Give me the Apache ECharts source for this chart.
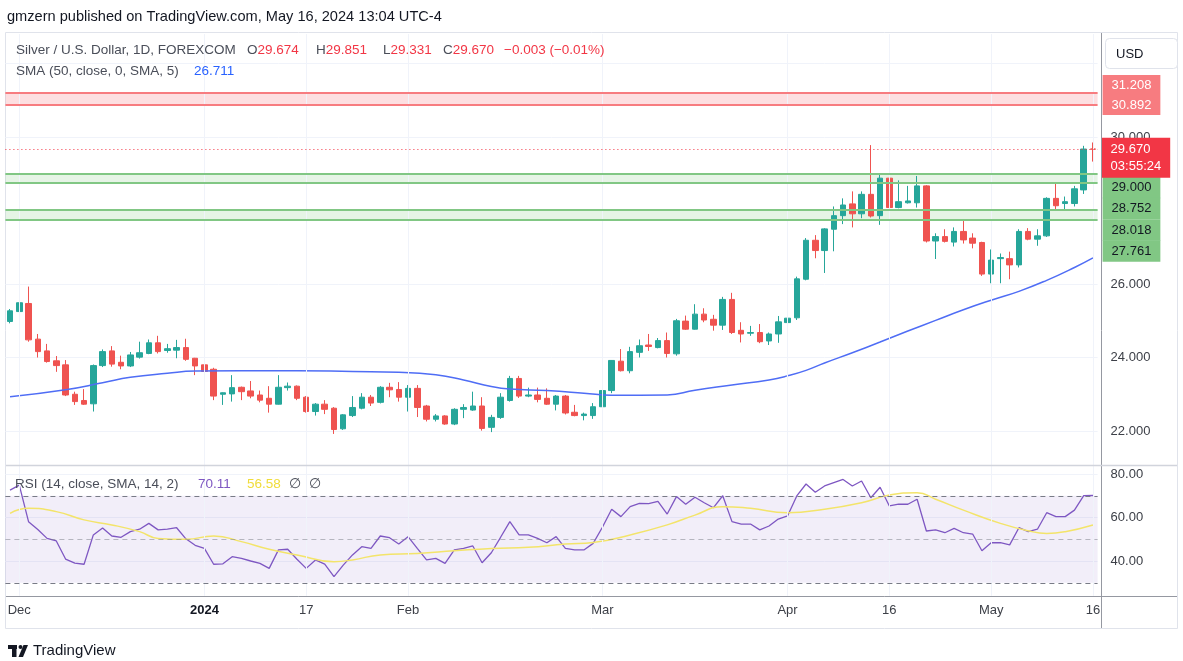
<!DOCTYPE html>
<html>
<head>
<meta charset="utf-8">
<title>Silver / U.S. Dollar, 1D, FOREXCOM</title>
<script src="https://cdn.jsdelivr.net/npm/echarts@6.0.0/dist/echarts.min.js"></script>
<style>
  html, body { margin: 0; padding: 0; background: #fff; }
  #chart { width: 1183px; height: 661px; }
</style>
</head>
<body>
<div id="chart"></div>
<script>
// daily bars, FOREXCOM XAGUSD (no bars on Dec 25, Jan 1, Good Friday)
const dates = [
  '2023-11-30', '2023-12-01', '2023-12-04', '2023-12-05', '2023-12-06', '2023-12-07', '2023-12-08',
  '2023-12-11', '2023-12-12', '2023-12-13', '2023-12-14', '2023-12-15',
  '2023-12-18', '2023-12-19', '2023-12-20', '2023-12-21', '2023-12-22',
  '2023-12-26', '2023-12-27', '2023-12-28', '2023-12-29',
  '2024-01-02', '2024-01-03', '2024-01-04', '2024-01-05',
  '2024-01-08', '2024-01-09', '2024-01-10', '2024-01-11', '2024-01-12',
  '2024-01-15', '2024-01-16', '2024-01-17', '2024-01-18', '2024-01-19',
  '2024-01-22', '2024-01-23', '2024-01-24', '2024-01-25', '2024-01-26',
  '2024-01-29', '2024-01-30', '2024-01-31', '2024-02-01', '2024-02-02',
  '2024-02-05', '2024-02-06', '2024-02-07', '2024-02-08', '2024-02-09',
  '2024-02-12', '2024-02-13', '2024-02-14', '2024-02-15', '2024-02-16',
  '2024-02-19', '2024-02-20', '2024-02-21', '2024-02-22', '2024-02-23',
  '2024-02-26', '2024-02-27', '2024-02-28', '2024-02-29', '2024-03-01',
  '2024-03-04', '2024-03-05', '2024-03-06', '2024-03-07', '2024-03-08',
  '2024-03-11', '2024-03-12', '2024-03-13', '2024-03-14', '2024-03-15',
  '2024-03-18', '2024-03-19', '2024-03-20', '2024-03-21', '2024-03-22',
  '2024-03-25', '2024-03-26', '2024-03-27', '2024-03-28',
  '2024-04-01', '2024-04-02', '2024-04-03', '2024-04-04', '2024-04-05',
  '2024-04-08', '2024-04-09', '2024-04-10', '2024-04-11', '2024-04-12',
  '2024-04-15', '2024-04-16', '2024-04-17', '2024-04-18', '2024-04-19',
  '2024-04-22', '2024-04-23', '2024-04-24', '2024-04-25', '2024-04-26',
  '2024-04-29', '2024-04-30', '2024-05-01', '2024-05-02', '2024-05-03',
  '2024-05-06', '2024-05-07', '2024-05-08', '2024-05-09', '2024-05-10',
  '2024-05-13', '2024-05-14', '2024-05-15', '2024-05-16'
];

const opens = [
  24.98, 25.25, 25.47, 24.50, 24.18, 23.91, 23.80, 23.00, 22.83, 22.74,
  23.78, 24.18, 23.87, 23.77, 24.01, 24.11, 24.40, 24.19, 24.20, 24.27,
  23.98, 23.80, 23.68, 23.00, 23.01, 23.19, 23.09, 22.98, 22.89, 22.73,
  23.18, 23.22, 22.92, 22.53, 22.73, 22.62, 22.06, 22.42, 22.62, 22.92,
  22.78, 23.19, 23.13, 22.92, 23.16, 22.68, 22.32, 22.41, 22.19, 22.59,
  22.57, 22.68, 22.10, 22.37, 22.83, 23.43, 22.95, 22.98, 22.89, 22.73,
  22.95, 22.51, 22.42, 22.42, 22.66, 23.10, 23.90, 23.64, 24.14, 24.34,
  24.27, 24.46, 24.10, 24.99, 24.77, 25.18, 25.04, 24.88, 25.58, 24.74,
  24.66, 24.68, 24.45, 24.64, 24.95, 25.08, 26.13, 27.19, 26.91, 27.49,
  27.86, 28.18, 27.91, 28.44, 27.86, 28.88, 28.08, 28.21, 28.21, 28.67,
  27.17, 27.29, 27.14, 27.43, 27.25, 27.13, 26.27, 26.69, 26.69, 26.52,
  27.43, 27.22, 27.31, 28.33, 28.19, 28.19, 28.56, 29.674
];
const highs = [
  25.32, 25.52, 25.93, 24.64, 24.37, 24.04, 23.93, 23.07, 23.14, 23.81,
  24.22, 24.31, 24.05, 24.15, 24.43, 24.49, 24.59, 24.37, 24.48, 24.51,
  23.99, 24.11, 23.72, 23.05, 23.52, 23.21, 23.36, 23.10, 23.22, 23.52,
  23.32, 23.24, 22.95, 22.76, 22.84, 22.65, 22.46, 22.95, 23.03, 22.98,
  23.22, 23.31, 23.33, 23.25, 23.25, 22.71, 22.46, 22.43, 22.62, 22.73,
  23.07, 22.92, 22.44, 23.03, 23.50, 23.50, 23.18, 23.18, 23.16, 22.98,
  22.98, 22.71, 22.50, 22.76, 23.27, 23.93, 24.23, 24.29, 24.49, 24.64,
  24.53, 24.68, 25.05, 25.14, 25.45, 25.34, 25.16, 25.65, 25.76, 24.96,
  24.86, 24.91, 24.68, 25.13, 25.38, 26.20, 27.25, 27.33, 27.52, 28.11,
  28.33, 28.52, 28.52, 29.78, 28.97, 29.01, 28.82, 28.67, 28.94, 28.69,
  27.38, 27.49, 27.54, 27.76, 27.38, 27.15, 26.94, 26.83, 26.88, 27.49,
  27.52, 27.49, 28.36, 28.77, 28.38, 28.67, 29.76, 29.851
];
const lows = [
  24.93, 25.09, 24.43, 24.00, 23.86, 23.61, 22.95, 22.71, 22.71, 22.53,
  23.74, 23.75, 23.68, 23.74, 23.97, 24.09, 24.11, 24.13, 23.98, 23.91,
  23.52, 23.60, 22.84, 22.71, 22.80, 22.84, 22.89, 22.78, 22.50, 22.72,
  23.10, 22.84, 22.50, 22.42, 22.46, 21.92, 22.03, 22.38, 22.59, 22.68,
  22.75, 22.92, 22.80, 22.53, 22.38, 22.26, 22.26, 22.17, 22.16, 22.35,
  22.55, 22.01, 21.97, 22.33, 22.80, 22.90, 22.92, 22.78, 22.71, 22.56,
  22.45, 22.40, 22.29, 22.33, 22.53, 23.03, 23.62, 23.57, 24.00, 24.18,
  24.25, 24.00, 24.05, 24.75, 24.76, 24.96, 24.73, 24.75, 24.64, 24.41,
  24.59, 24.39, 24.34, 24.40, 24.75, 25.02, 26.10, 26.70, 26.30, 26.89,
  27.63, 27.54, 27.79, 27.81, 27.61, 27.98, 28.06, 28.19, 28.08, 27.13,
  26.68, 27.13, 27.02, 27.10, 26.97, 26.22, 26.02, 26.02, 26.13, 26.45,
  27.19, 27.04, 27.28, 28.02, 28.02, 28.11, 28.45, 29.331
];
const closes = [
  25.27, 25.49, 24.48, 24.16, 23.89, 23.78, 22.98, 22.80, 22.73, 23.78,
  24.16, 23.82, 23.77, 24.07, 24.13, 24.40, 24.16, 24.24, 24.27, 23.95,
  23.77, 23.62, 22.95, 23.04, 23.18, 23.07, 22.95, 22.84, 22.73, 23.19,
  23.22, 22.89, 22.53, 22.73, 22.59, 22.04, 22.44, 22.64, 22.92, 22.76,
  23.19, 23.12, 22.92, 23.16, 22.64, 22.32, 22.41, 22.19, 22.59, 22.64,
  22.68, 22.07, 22.37, 22.92, 23.43, 22.95, 22.98, 22.86, 22.73, 22.95,
  22.49, 22.42, 22.46, 22.66, 23.10, 23.92, 23.64, 24.16, 24.32, 24.30,
  24.46, 24.11, 25.00, 24.77, 25.18, 25.02, 24.88, 25.58, 24.68, 24.64,
  24.68, 24.43, 24.64, 24.97, 25.07, 26.14, 27.19, 26.91, 27.50, 27.86,
  28.15, 27.91, 28.44, 27.85, 28.88, 28.08, 28.24, 28.26, 28.67, 27.17,
  27.29, 27.16, 27.43, 27.20, 27.11, 26.27, 26.65, 26.72, 26.52, 27.43,
  27.22, 27.31, 28.33, 28.13, 28.24, 28.59, 29.673, 29.670
];

// SMA 50 of close at these bars
const smaAt   = [0, 6, 10, 13, 17, 20, 25, 31, 37, 42, 46, 49, 52, 54, 58, 62, 65, 71, 74, 78,
                 82, 84, 86, 88, 91, 94, 97, 100, 103, 106, 109, 112, 115, 117];
const smaVals = [22.93, 23.12, 23.31, 23.46, 23.57, 23.63, 23.64, 23.64, 23.62, 23.60,
                 23.53, 23.39, 23.21, 23.14, 23.10, 23.03, 22.97, 22.98, 23.11, 23.25,
                 23.39, 23.50, 23.65, 23.85, 24.13, 24.42, 24.72, 25.01, 25.30, 25.56,
                 25.80, 26.10, 26.45, 26.711];

// RSI 14, one value per bar
const rsiVals = [
  72.6, 74.9, 58.1, 54.5, 50.4, 49.2, 40.9, 39.0, 38.5, 52.0,
  55.2, 51.5, 50.9, 53.5, 54.6, 57.3, 54.3, 54.7, 55.3, 50.2,
  47.2, 45.8, 38.5, 38.7, 42.0, 41.2, 40.0, 38.9, 36.6, 45.1,
  45.4, 40.8, 36.6, 40.5, 38.6, 32.8, 38.1, 42.8, 46.6, 45.8,
  51.5, 50.7, 47.8, 51.2, 45.8, 40.5, 41.2, 38.9, 45.1, 45.8,
  46.9, 39.2, 43.8, 50.9, 58.1, 52.0, 52.0, 50.4, 48.4, 51.2,
  45.8, 45.1, 45.1, 48.1, 55.5, 63.8, 60.4, 65.0, 66.5, 66.4,
  67.4, 61.6, 69.6, 66.1, 69.3, 66.8, 64.5, 70.0, 58.1, 57.0,
  57.0, 54.3, 56.1, 59.3, 60.7, 69.9, 75.4, 71.6, 74.5, 76.0,
  77.5, 74.5, 76.8, 69.1, 73.9, 65.3, 66.1, 66.1, 68.4, 53.8,
  54.3, 53.0, 55.0, 53.0, 52.4, 44.7, 48.4, 48.4, 47.4, 55.3,
  53.5, 54.6, 62.2, 60.4, 60.4, 63.4, 70.1, 70.11
];

// SMA 14 of RSI (yellow), read at these bars
const rsiSmaAt   = [0, 2, 5, 8, 11, 14, 16, 19, 22, 25, 28, 31, 35, 37, 40, 44, 48, 52, 56, 60,
                    63, 67, 71, 74, 77, 80, 84, 88, 92, 95, 98, 100, 103, 107, 110, 112, 114, 117];
const rsiSmaVals = [61.9, 64.2, 62.7, 58.9, 56.6, 53.5, 50.4, 50.0, 51.5, 48.9,
                    45.4, 42.8, 39.7, 40.5, 42.8, 43.5, 44.7, 45.8, 46.3, 47.8,
                    48.5, 52.0, 56.6, 61.1, 65.0, 64.2, 62.2, 63.8, 66.8, 70.3,
                    71.4, 68.4, 63.4, 57.3, 53.9, 52.7, 53.5, 56.58];

const timeTickDates  = ['2023-12-01', '2024-01-02', '2024-01-17', '2024-02-01', '2024-03-01',
                        '2024-04-01', '2024-04-16', '2024-05-01', '2024-05-16'];
const timeTickLabels = ['Dec', '2024', '17', 'Feb', 'Mar', 'Apr', '16', 'May', '16'];
const priceTicks = [22, 24, 26, 30];
const rsiTicks = [40, 60, 80];
const rsiLevels = [70, 50, 30];

// drawn horizontal levels
const resistance = [31.208, 30.892];
const support = [29.000, 28.752, 28.018, 27.761];
const countdown = '03:55:24';

// label shifts on the price scale (TradingView stacks them)
const resistanceShift = [-7.6, 0.8];
const supportShift = [13.75, 25.6, 20.2, 31.7];

const FONT = '"Liberation Sans", Arial, sans-serif';
const UP = '#26a69a';
const DOWN = '#ef5350';
const GRID = '#f0f3fa';
const TEXT = '#131722';
const SCALE_TEXT = '#3d4048';
const LEGEND = '#4a4e59';

const n = dates.length;
const last = n - 1;
const candleData = dates.map((d, i) => [opens[i], closes[i], lows[i], highs[i]]);
const smaData = smaAt.map((i, k) => [dates[i], smaVals[k]]);
const rsiSmaData = rsiSmaAt.map((i, k) => [dates[i], rsiSmaVals[k]]);
const change = closes[last] - closes[last - 1];
const changePct = change / closes[last - 1] * 100;
const signed = (v, d) => (v < 0 ? '\u2212' : '+') + Math.abs(v).toFixed(d);

const vGrid = timeTickDates.map((d) => ({
  xAxis: d,
  lineStyle: { color: GRID, width: 1, type: 'solid' },
  label: { show: false },
}));

function levelLine(v, color, shift, bg, fg, lh) {
  return {
    yAxis: v,
    lineStyle: { color, width: 2, type: 'solid' },
    label: {
      show: true, position: 'end', distance: 5, offset: [0, shift],
      formatter: v.toFixed(3), backgroundColor: bg, color: fg,
      padding: [2, 9], fontSize: 13, lineHeight: lh, fontFamily: FONT,
    },
  };
}

const priceMarks = [
  ...vGrid,
  ...resistance.map((v, i) => levelLine(v, '#f77c80', resistanceShift[i], '#f77c80', '#fff', 16)),
  ...support.map((v, i) => levelLine(v, '#81c784', supportShift[i], '#81c784', TEXT, 17.5)),
  {
    yAxis: closes[last],
    lineStyle: { color: '#f23645', width: 1, type: [1, 3] },
    label: {
      show: true, position: 'end', distance: 4, offset: [0, 8.5],
      formatter: closes[last].toFixed(3) + '\n' + countdown,
      backgroundColor: '#f23645', color: '#fff', padding: [3, 9],
      fontSize: 13, lineHeight: 17, fontFamily: FONT,
    },
  },
];

const chart = echarts.init(document.getElementById('chart'));

function txt(x, y, text, fill, size, extra) {
  return {
    type: 'text', x, y, z: 100, silent: true,
    style: Object.assign({ text, fill, fontSize: size, fontFamily: FONT, verticalAlign: 'middle' }, extra || {}),
  };
}

const ohlcRich = { rich: { g: { fill: LEGEND, fontSize: 13.5 }, r: { fill: '#f23645', fontSize: 13.5 } } };

const option = {
  animation: false,
  backgroundColor: '#fff',
  textStyle: { fontFamily: FONT },
  grid: [
    { left: 5.4, right: 85.4, top: 34.1, height: 433.65 },
    { left: 5.4, right: 85.4, top: 465.3, height: 130.5 },
  ],
  xAxis: [
    { type: 'category', gridIndex: 0, data: dates, boundaryGap: true, show: false },
    {
      type: 'category', gridIndex: 1, data: dates, boundaryGap: true,
      axisLine: { show: false }, axisTick: { show: false }, splitLine: { show: false },
      axisLabel: {
        interval: (idx, val) => timeTickDates.includes(val),
        formatter: (val) => {
          const k = timeTickDates.indexOf(val);
          return k === 1 ? '{b|' + timeTickLabels[k] + '}' : timeTickLabels[k];
        },
        rich: { b: { fontWeight: 'bold', fontSize: 13, color: TEXT, fontFamily: FONT } },
        color: SCALE_TEXT, fontSize: 13, margin: 8,
      },
    },
  ],
  yAxis: [
    {
      type: 'value', gridIndex: 0, position: 'right', offset: 3,
      min: 21, max: 32.8, interval: 1,
      axisLine: { show: false }, axisTick: { show: false },
      axisLabel: {
        margin: 10, color: SCALE_TEXT, fontSize: 13,
        formatter: (v) => (priceTicks.includes(v) ? v.toFixed(3) : ''),
      },
      splitLine: { show: true, lineStyle: { color: ['rgba(0,0,0,0)', GRID], width: 1 } },
    },
    {
      type: 'value', gridIndex: 1, position: 'right', offset: 3,
      min: 24, max: 84, interval: 4,
      axisLine: { show: false }, axisTick: { show: false },
      axisLabel: {
        margin: 10, color: SCALE_TEXT, fontSize: 13,
        formatter: (v) => (rsiTicks.includes(v) ? v.toFixed(2) : ''),
      },
      splitLine: {
        show: true,
        lineStyle: { color: ['rgba(0,0,0,0)', 'rgba(0,0,0,0)', 'rgba(0,0,0,0)', 'rgba(0,0,0,0)', GRID], width: 1 },
      },
    },
  ],
  series: [
    {
      name: 'XAGUSD', type: 'candlestick', xAxisIndex: 0, yAxisIndex: 0,
      data: candleData, barWidth: 6,
      itemStyle: { color: UP, color0: DOWN, borderColor: UP, borderColor0: DOWN, borderWidth: 1 },
      markArea: {
        silent: true,
        data: [
          [{ yAxis: resistance[0], itemStyle: { color: 'rgba(242,54,69,0.16)' } }, { yAxis: resistance[1] }],
          [{ yAxis: support[0], itemStyle: { color: 'rgba(76,175,80,0.14)' } }, { yAxis: support[1] }],
          [{ yAxis: support[2], itemStyle: { color: 'rgba(76,175,80,0.14)' } }, { yAxis: support[3] }],
        ],
      },
      markLine: { silent: true, symbol: ['none', 'none'], data: priceMarks },
    },
    {
      name: 'SMA 50', type: 'line', xAxisIndex: 0, yAxisIndex: 0,
      data: smaData, smooth: true, showSymbol: false,
      lineStyle: { color: '#4f6df5', width: 1.5 },
    },
    {
      name: 'RSI', type: 'line', xAxisIndex: 1, yAxisIndex: 1,
      data: rsiVals, showSymbol: false,
      lineStyle: { color: '#7e57c2', width: 1.3 },
      markArea: {
        silent: true,
        itemStyle: { color: 'rgba(126,87,194,0.1)' },
        data: [[{ yAxis: rsiLevels[0] }, { yAxis: rsiLevels[2] }]],
      },
      markLine: {
        silent: true, symbol: ['none', 'none'],
        data: [
          ...vGrid,
          ...rsiLevels.map((v) => ({
            yAxis: v,
            lineStyle: { color: '#787b86', width: 1, type: [5, 4], opacity: v === 50 ? 0.5 : 1 },
            label: { show: false },
          })),
        ],
      },
    },
    {
      name: 'RSI SMA', type: 'line', xAxisIndex: 1, yAxisIndex: 1,
      data: rsiSmaData, smooth: true, showSymbol: false,
      lineStyle: { color: '#f3e46a', width: 1.5 },
    },
  ],
  graphic: [
    { type: 'rect', silent: true, z: -1, shape: { x: 5.5, y: 32.5, width: 1172, height: 596 },
      style: { fill: 'none', stroke: '#e0e3eb', lineWidth: 1 } },
    { type: 'line', silent: true, z: 50, shape: { x1: 1101.5, y1: 33, x2: 1101.5, y2: 628 },
      style: { stroke: '#9598a1', lineWidth: 1 } },
    { type: 'line', silent: true, z: 50, shape: { x1: 6, y1: 465.5, x2: 1177, y2: 465.5 },
      style: { stroke: '#d1d4dc', lineWidth: 1.5 } },
    { type: 'line', silent: true, z: 50, shape: { x1: 6, y1: 596.5, x2: 1177, y2: 596.5 },
      style: { stroke: '#9598a1', lineWidth: 1 } },
    { type: 'rect', silent: true, z: 60, shape: { x: 1105.5, y: 38.5, width: 72, height: 30, r: 4 },
      style: { fill: '#fff', stroke: '#e0e3eb', lineWidth: 1 } },
    txt(1116, 54, 'USD', TEXT, 13),

    txt(7, 17, 'gmzern published on TradingView.com, May 16, 2024 13:04 UTC-4', TEXT, 14.6),

    txt(16, 50, 'Silver / U.S. Dollar, 1D, FOREXCOM', LEGEND, 13.5),
    txt(247, 50, '{g|O}{r|' + opens[last].toFixed(3) + '}', LEGEND, 13.5, ohlcRich),
    txt(316, 50, '{g|H}{r|' + highs[last].toFixed(3) + '}', LEGEND, 13.5, ohlcRich),
    txt(383, 50, '{g|L}{r|' + lows[last].toFixed(3) + '}', LEGEND, 13.5, ohlcRich),
    txt(443, 50, '{g|C}{r|' + closes[last].toFixed(3) + '}', LEGEND, 13.5, ohlcRich),
    txt(504, 50, signed(change, 3) + ' (' + signed(changePct, 2) + '%)', '#f23645', 13.5),

    txt(16, 71, 'SMA (50, close, 0, SMA, 5)', LEGEND, 13.5),
    txt(194, 71, smaVals[smaVals.length - 1].toFixed(3), '#2962ff', 13.5),

    txt(15, 484, 'RSI (14, close, SMA, 14, 2)', LEGEND, 13.5),
    txt(198, 484, rsiVals[last].toFixed(2), '#7e57c2', 13.5),
    txt(247, 484, rsiSmaVals[rsiSmaVals.length - 1].toFixed(2), '#f0dc3a', 13.5),
    txt(289, 484, '\u2205  \u2205', LEGEND, 13.5),

    // TradingView logo + wordmark
    { type: 'rect', silent: true, shape: { x: 8, y: 645, width: 9, height: 4 }, style: { fill: TEXT } },
    { type: 'rect', silent: true, shape: { x: 12, y: 645, width: 4.5, height: 12 }, style: { fill: TEXT } },
    { type: 'circle', silent: true, shape: { cx: 20.5, cy: 647, r: 2 }, style: { fill: TEXT } },
    { type: 'polygon', silent: true, shape: { points: [[18.5, 657], [23, 657], [28, 645], [23.5, 645]] }, style: { fill: TEXT } },
    txt(33, 651, 'TradingView', TEXT, 15),
  ],
};

chart.setOption(option);
</script>
</body>
</html>
